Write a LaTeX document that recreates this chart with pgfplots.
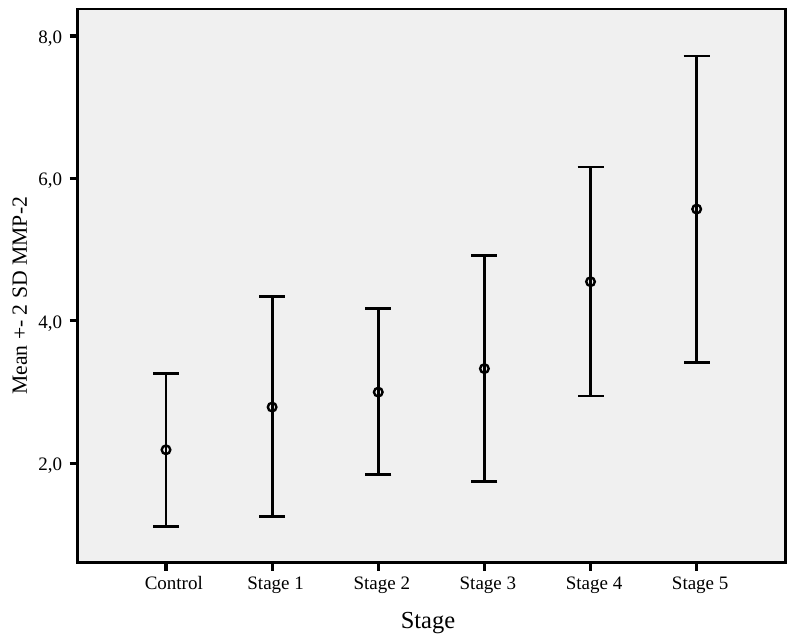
\documentclass[border=0pt]{standalone}
\usepackage{fontspec}
\setmainfont{Liberation Serif}
\usepackage{pgfplots}
\usepackage{pgfplotstable}
\pgfplotsset{compat=1.18}
\usetikzlibrary{calc}
\definecolor{bg}{HTML}{F0F0F0}
\pgfplotstableread{
x y ep em
0 2.19 1.07 1.075
1 2.79 1.55 1.54
2 3.00 1.17 1.16
3 3.33 1.59 1.59
4 4.55 1.61 1.605
5 5.57 2.15 2.15
}\datatable
\begin{document}
\begin{tikzpicture}[x=1pt,y=1pt]
\path[use as bounding box] (0,0) rectangle (794,637);
\begin{axis}[
  at={(77.7pt,74.3pt)}, anchor=south west,
  scale only axis, width=708pt, height=553.7pt,
  xmin=-0.832, xmax=5.839, ymin=0.605, ymax=8.379,
  axis background/.style={fill=bg},
  axis line style={line width=2.8pt, black},
  xtick={0,1,2,3,4,5},
  xticklabels={\hspace*{8.6pt}Control,Stage 1,Stage 2,Stage 3,Stage 4,Stage 5},
  ytick={2,4,6,8},
  tick align=outside, major tick length=8pt,
  tick style={line width=3.2pt, black},
  xtick pos=bottom, ytick pos=left,
  xticklabel style={font=\fontsize{19}{19}\selectfont, anchor=base, yshift=-18.3pt, xshift=3.5pt},
  yticklabel style={font=\fontsize{19}{19}\selectfont, anchor=base east, inner sep=0pt, xshift=-7.4pt, yshift=-7.3pt,
    /pgf/number format/fixed, /pgf/number format/fixed zerofill,
    /pgf/number format/precision=1, /pgf/number format/use comma,
    /pgf/number format/assume math mode=true},
  xlabel={Stage},
  xlabel style={font=\fontsize{24.5}{24.5}\selectfont, at={($(rel axis cs:0.5,0)+(-3.7pt,-65.3pt)$)}, anchor=base},
  ylabel={Mean +- 2 SD MMP-2},
  ylabel style={font=\fontsize{21.7}{21.7}\selectfont, at={($(rel axis cs:0,0.482)+(-50.7pt,0)$)}, anchor=base, rotate=0},
  clip=false,
]
\addplot[black, only marks, mark=o, mark size=4.3pt, mark options={line width=2.4pt},
  error bars/.cd, y dir=both, y explicit,
  error bar style={line width=2.8pt, black},
  error mark options={rotate=90, mark size=13pt, line width=2.8pt, black}]
  table[x=x, y=y, y error plus=ep, y error minus=em] {\datatable};
\end{axis}
\end{tikzpicture}
\end{document}
